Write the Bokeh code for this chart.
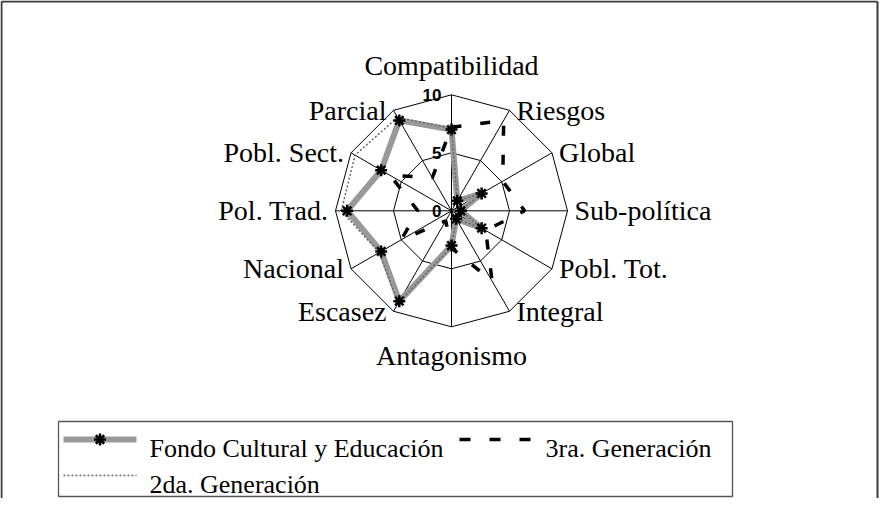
import numpy as np
from bokeh.plotting import figure
from bokeh.models import Range1d
from bokeh.embed import file_html
from bokeh.resources import INLINE
from bokeh.core.properties import value

# ---------------- data ----------------
categories = ["Compatibilidad", "Riesgos", "Global", "Sub-política", "Pobl. Tot.",
              "Integral", "Antagonismo", "Escasez", "Nacional", "Pol. Trad.",
              "Pobl. Sect.", "Parcial"]
fondo_cultural = [7.0, 1.0, 3.0, 0.8, 3.0, 0.8, 3.0, 9.0, 7.0, 9.0, 7.0, 9.0]
segunda_gen = [7.1, 1.0, 3.0, 0.8, 3.0, 0.8, 3.1, 9.2, 7.2, 9.5, 9.6, 9.3]
tercera_gen = [7.2, 9.0, 5.1, 6.3, 3.4, 7.0, 3.2, 1.0, 5.0, 2.9, 6.1, 3.3]
ring_values = [5, 10]
tick_labels = ["10", "5", "0"]
tick_values = [10, 5, 0]
series_names = ["Fondo Cultural y Educación", "3ra. Generación", "2da. Generación"]

# ---------------- layout ----------------
W, H = 879, 498
OX, OY = 8, 8            # page offset of the figure
CX, CY = 459.0, 218.3    # page position of radar centre
S = 11.6                 # pixels per value unit
RMAX = 10

def X(px):
    return (px - CX) / S

def Y(py):
    return (CY - py) / S

p = figure(width=W, height=H, output_backend="svg", toolbar_location=None,
           x_range=Range1d(X(OX), X(OX + W)), y_range=Range1d(Y(OY + H), Y(OY)),
           x_axis_type=None, y_axis_type=None, min_border=0)
p.outline_line_color = None
p.background_fill_color = "white"
p.border_fill_color = "white"

n = len(categories)
theta = np.arange(n) * 2 * np.pi / n
sx, sy = np.sin(theta), np.cos(theta)

def closed(vals):
    v = np.asarray(vals, dtype=float)
    xs = list(v * sx) + [v[0] * sx[0]]
    ys = list(v * sy) + [v[0] * sy[0]]
    return xs, ys

# outer frame (left, top, right)
p.multi_line(xs=[[X(9), X(9)], [X(9), X(885)], [X(885), X(885)]],
             ys=[[Y(506), Y(9)], [Y(9), Y(9)], [Y(9), Y(506)]],
             line_color="#3a3a3a", line_width=2)

# grid rings and spokes
for r in ring_values:
    xs, ys = closed([r] * n)
    p.line(xs, ys, line_color="black", line_width=1)
p.segment(x0=[0] * n, y0=[0] * n, x1=list(RMAX * sx), y1=list(RMAX * sy),
          line_color="black", line_width=1)

# series
xs1, ys1 = closed(fondo_cultural)
p.line(xs1, ys1, line_color="#999999", line_width=6, line_join="round")
xs2, ys2 = closed(segunda_gen)
p.line(xs2, ys2, line_color="#666666", line_width=1.5, line_dash="2 2")
xs3, ys3 = closed(tercera_gen)
p.line(xs3, ys3, line_color="black", line_width=3.5, line_dash="10 19")
p.scatter(xs1[:-1], ys1[:-1], marker="asterisk", size=12,
          line_color="black", line_width=2.5)

# tick labels
p.text(x=[X(CX - 10)] * 3, y=tick_values, text=tick_labels,
       text_font=value("Liberation Sans"), text_font_style="bold",
       text_font_size=value("17px"), text_align="right", text_baseline="middle",
       text_color="black")

# category labels
lab_font = value("Liberation Serif")
lab_size = value("28px")
pad = 7.0 / S
top_pad = 29.0 / S
lx = {"left": [], "right": [], "center": []}
ly = {"left": [], "right": [], "center": []}
lt = {"left": [], "right": [], "center": []}
for i, name in enumerate(categories):
    vx, vy = RMAX * sx[i], RMAX * sy[i]
    if abs(sx[i]) < 1e-6:
        key = "center"
        x = vx
        y = vy + (top_pad if vy > 0 else -top_pad)
    elif sx[i] > 0:
        key = "left"
        x, y = vx + pad, vy
    else:
        key = "right"
        x, y = vx - pad, vy
    lx[key].append(x)
    ly[key].append(y)
    lt[key].append(name)
for key in ("left", "right", "center"):
    p.text(x=lx[key], y=ly[key], text=lt[key], text_font=lab_font,
           text_font_size=lab_size, text_align=key, text_baseline="middle",
           text_color="black")

# legend
p.quad(left=[X(66)], right=[X(740)], top=[Y(429)], bottom=[Y(504)],
       fill_alpha=0, line_color="#555555", line_width=1.3)
row1, row2 = 447, 483
p.line([X(71), X(144)], [Y(row1), Y(row1)], line_color="#999999", line_width=6)
p.scatter([X(107.5)], [Y(row1)], marker="asterisk", size=12,
          line_color="black", line_width=2.5)
p.line([X(467), X(540)], [Y(row1), Y(row1)], line_color="black", line_width=3.5,
       line_dash="11 19")
p.line([X(71), X(144)], [Y(row2), Y(row2)], line_color="#666666", line_width=1.5,
       line_dash="2 2")
leg_font = value("Liberation Serif")
leg_size = value("26px")
p.text(x=[X(157), X(553), X(157)], y=[Y(456), Y(456), Y(492)],
       text=[series_names[0], series_names[1], series_names[2]],
       text_font=leg_font, text_font_size=leg_size, text_align="left",
       text_baseline="alphabetic", text_color="black")

open("out.html", "w").write(file_html(p, INLINE))
